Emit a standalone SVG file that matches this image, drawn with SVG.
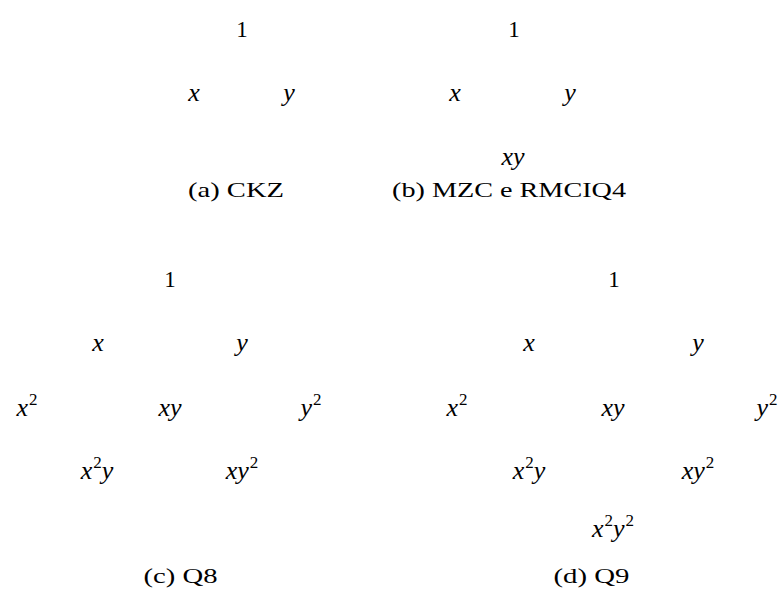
<svg xmlns="http://www.w3.org/2000/svg" width="783" height="590" viewBox="0 0 783 590">
<style>
  text { font-family: 'Liberation Serif', 'Times New Roman', serif; fill: #000; text-anchor: middle; }
  .m { font-size: 26px; font-style: italic; }
  .n { font-size: 23px; }
  .s { font-style: normal; font-size: 17px; }
  .c { font-size: 22px; }
</style>
<rect width="783" height="590" fill="#fff"/>
<g id="connectors"/>
<g font-family="Liberation Serif, serif">
<!-- (a) -->
<g id="a-1"><text class="n" x="242" y="37">1</text></g>
<g id="a-x"><text class="m" x="194" y="101">x</text></g>
<g id="a-y"><text class="m" x="289" y="101">y</text></g>
<g id="cap-a"><text class="c" x="236" y="197" textLength="96" lengthAdjust="spacingAndGlyphs">(a)  CKZ</text></g>
<!-- (b) -->
<g id="b-1"><text class="n" x="514" y="37">1</text></g>
<g id="b-x"><text class="m" x="455" y="101">x</text></g>
<g id="b-y"><text class="m" x="570" y="101">y</text></g>
<g id="b-xy"><text class="m" x="513" y="165">xy</text></g>
<g id="cap-b"><text class="c" x="509" y="197" textLength="234" lengthAdjust="spacingAndGlyphs">(b)  MZC e RMCIQ4</text></g>
<!-- (c) -->
<g id="c-1"><text class="n" x="170" y="287">1</text></g>
<g id="c-x"><text class="m" x="98" y="351">x</text></g>
<g id="c-y"><text class="m" x="242" y="351">y</text></g>
<g id="c-x2"><text class="m" x="27" y="416">x<tspan class="s" dx="1" dy="-11">2</tspan></text></g>
<g id="c-xy"><text class="m" x="170" y="416">xy</text></g>
<g id="c-y2"><text class="m" x="311" y="416">y<tspan class="s" dx="1" dy="-11">2</tspan></text></g>
<g id="c-x2y"><text class="m" x="97" y="479">x<tspan class="s" dx="1" dy="-11">2</tspan><tspan dy="11">y</tspan></text></g>
<g id="c-xy2"><text class="m" x="242" y="479">xy<tspan class="s" dx="1" dy="-11">2</tspan></text></g>
<g id="cap-c"><text class="c" x="180.5" y="583" textLength="74" lengthAdjust="spacingAndGlyphs">(c)  Q8</text></g>
<!-- (d) -->
<g id="d-1"><text class="n" x="614" y="287">1</text></g>
<g id="d-x"><text class="m" x="529" y="351">x</text></g>
<g id="d-y"><text class="m" x="698" y="351">y</text></g>
<g id="d-x2"><text class="m" x="457" y="416">x<tspan class="s" dx="1" dy="-11">2</tspan></text></g>
<g id="d-xy"><text class="m" x="613" y="416">xy</text></g>
<g id="d-y2"><text class="m" x="767" y="416">y<tspan class="s" dx="1" dy="-11">2</tspan></text></g>
<g id="d-x2y"><text class="m" x="529" y="479">x<tspan class="s" dx="1" dy="-11">2</tspan><tspan dy="11">y</tspan></text></g>
<g id="d-xy2"><text class="m" x="698" y="479">xy<tspan class="s" dx="1" dy="-11">2</tspan></text></g>
<g id="d-x2y2"><text class="m" x="613" y="537">x<tspan class="s" dx="1" dy="-11">2</tspan><tspan dy="11">y</tspan><tspan class="s" dx="1" dy="-11">2</tspan></text></g>
<g id="cap-d"><text class="c" x="591.5" y="583" textLength="76" lengthAdjust="spacingAndGlyphs">(d)  Q9</text></g>
</g>
</svg>
